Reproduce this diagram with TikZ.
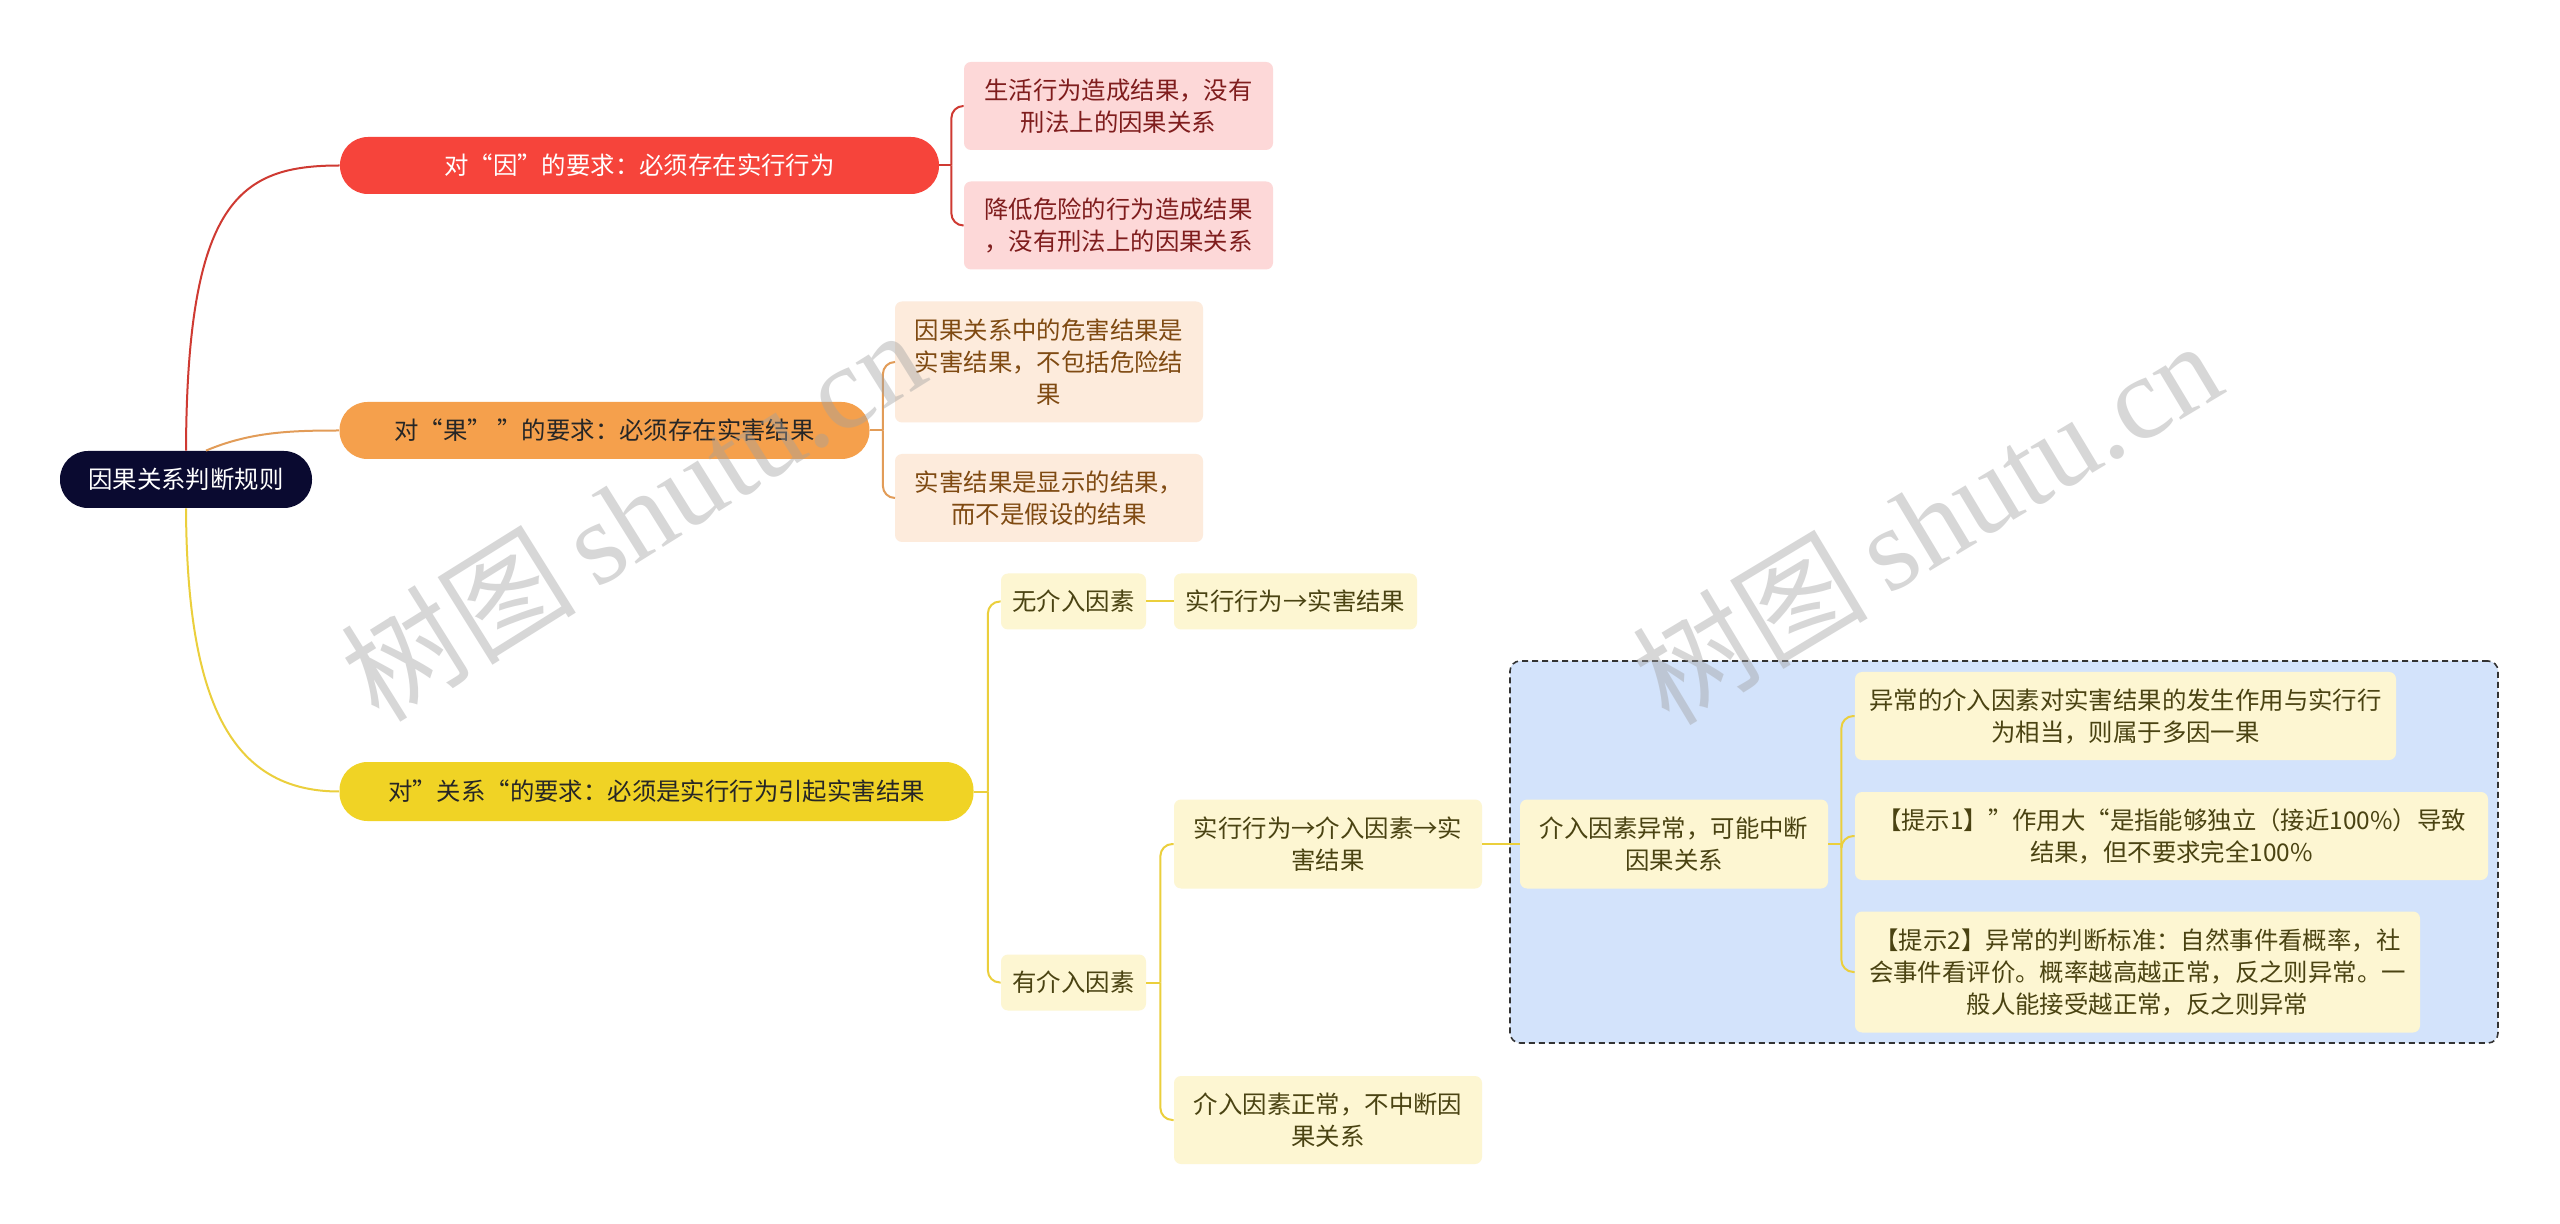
\documentclass[tikz,border=0pt]{standalone}
\usepackage{fontspec}
\setmainfont{Noto Sans CJK SC}
\newfontfamily\wmfont{Liberation Serif}
\newfontfamily\wmcjk{Noto Sans CJK SC}
\definecolor{rootc}{RGB}{10,10,48}
\definecolor{redfill}{RGB}{246,68,59}
\definecolor{redline}{RGB}{207,58,50}
\definecolor{orfill}{RGB}{245,160,76}
\definecolor{orline}{RGB}{226,156,88}
\definecolor{yefill}{RGB}{240,211,37}
\definecolor{yeline}{RGB}{235,207,60}
\definecolor{pinkleaf}{RGB}{253,216,216}
\definecolor{pinktext}{RGB}{127,29,29}
\definecolor{peachleaf}{RGB}{253,235,220}
\definecolor{peachtext}{RGB}{127,74,18}
\definecolor{yleaf}{RGB}{253,246,210}
\definecolor{ytext}{RGB}{74,67,18}
\definecolor{bluebox}{RGB}{211,227,251}
\definecolor{wmgray}{RGB}{160,160,160}
\begin{document}
\begin{tikzpicture}[x=0.5pt,y=-0.5pt,
  every node/.style={inner sep=0pt, align=center, font=\fontsize{12.2pt}{16pt}\selectfont},
  sz/.style 2 args={minimum width=#1*0.5pt, minimum height=#2*0.5pt},
  rootbox/.style={fill=rootc, text=white, rounded corners=14pt},
  pill/.style={rounded corners=14pt},
  leafbox/.style={rounded corners=3.5pt},
  rleaf/.style={leafbox, fill=pinkleaf, text=pinktext},
  oleaf/.style={leafbox, fill=peachleaf, text=peachtext},
  yleafbox/.style={leafbox, fill=yleaf, text=ytext},
  redl/.style={draw=redline, line width=1pt},
  orl/.style={draw=orline, line width=1pt},
  yel/.style={draw=yeline, line width=1pt},
  brk/.style={rounded corners=6pt},
  wm/.style={text=wmgray, opacity=0.42, font=\fontsize{59pt}{61pt}\selectfont}
]
\useasboundingbox (0,0) rectangle (2560,1224);
\fill[white] (0,0) rectangle (2560,1224);

% group box
\node[sz={988}{382}, fill=bluebox, draw=black!80, line width=0.8pt, dash pattern=on 3pt off 2pt, rounded corners=5pt] (grp) at (2004,852) {};

% root and main branches
\node[rootbox, sz={252}{57}] (root) at (186,479.5) {因果关系判断规则};
\node[pill, fill=redfill, text=white, sz={599}{57}] (b1) at (639.5,165.5) {对“因”的要求：必须存在实行行为};
\node[pill, fill=orfill, text=black!85, sz={530}{57}] (b2) at (604.5,430.5) {对“果” ”的要求：必须存在实害结果};
\node[pill, fill=yefill, text=black!85, sz={634}{59}] (b3) at (656.5,791.5) {对”关系“的要求：必须是实行行为引起实害结果};

% red leaves
\node[rleaf, sz={309}{88}] (l1a) at (1118.5,106) {生活行为造成结果，没有\\刑法上的因果关系};
\node[rleaf, sz={309}{88}] (l1b) at (1118.5,225.5) {降低危险的行为造成结果\\，没有刑法上的因果关系};

% orange leaves
\node[oleaf, sz={308}{121}] (l2a) at (1049,362) {因果关系中的危害结果是\\实害结果，不包括危险结\\果};
\node[oleaf, sz={308}{88}] (l2b) at (1049,498) {实害结果是显示的结果，\\而不是假设的结果};

% yellow subtree
\node[yleafbox, sz={145}{56}] (y1) at (1073.5,601.5) {无介入因素};
\node[yleafbox, sz={243}{56}] (y1a) at (1295.5,601.5) {实行行为→实害结果};
\node[yleafbox, sz={145}{56}] (y2) at (1073.5,982.5) {有介入因素};
\node[yleafbox, sz={308}{89}] (y2a) at (1328,844) {实行行为→介入因素→实\\害结果};
\node[yleafbox, sz={308}{88}] (y2b) at (1328,1120) {介入因素正常，不中断因\\果关系};
\node[yleafbox, sz={308}{89}] (y3) at (1674,844) {介入因素异常，可能中断\\因果关系};
\node[yleafbox, sz={541}{88}] (y3a) at (2125.5,716) {异常的介入因素对实害结果的发生作用与实行行\\为相当，则属于多因一果};
\node[yleafbox, sz={633}{88}] (y3b) at (2171.5,836) {【提示1】”作用大“是指能够独立（接近100\%）导致\\结果，但不要求完全100\%};
\node[yleafbox, sz={565}{121}] (y3c) at (2137.5,972) {【提示2】异常的判断标准：自然事件看概率，社\\会事件看评价。概率越高越正常，反之则异常。一\\般人能接受越正常，反之则异常};

% root connectors
\draw[redl] (root.north) .. controls (187,200) and (240,165.5) .. (b1.west);
\draw[orl] ([xshift=10pt]root.north) .. controls (250,432) and (290,430.5) .. (b2.west);
\draw[yel] (root.south) .. controls (187,700) and (230,791.5) .. (b3.west);

% red bracket
\draw[redl] (b1.east) -- ++(12,0) coordinate (j1);
\draw[redl, brk] (j1) |- (l1a.west);
\draw[redl, brk] (j1) |- (l1b.west);

% orange bracket
\draw[orl] (b2.east) -- ++(13,0) coordinate (j2);
\draw[orl, brk] (j2) |- (l2a.west);
\draw[orl, brk] (j2) |- (l2b.west);

% yellow brackets
\draw[yel] (b3.east) -- ++(14,0) coordinate (j3);
\draw[yel, brk] (j3) |- (y1.west);
\draw[yel, brk] (j3) |- (y2.west);
\draw[yel] (y1.east) -- (y1a.west);
\draw[yel] (y2.east) -- ++(14,0) coordinate (j4);
\draw[yel, brk] (j4) |- (y2a.west);
\draw[yel, brk] (j4) |- (y2b.west);
\draw[yel] (y2a.east) -- (y3.west);
\draw[yel] (y3.east) -- ++(13,0) coordinate (j5);
\draw[yel, brk] (j5) |- (y3a.west);
\draw[yel, brk] (j5) |- (y3b.west);
\draw[yel, brk] (j5) |- (y3c.west);

% watermarks
\node[wm, rotate=32] (wm1) at (632,514) {\wmcjk 树图\,\wmfont shutu.cn};
\node[wm, rotate=31] (wm2) at (1926,521) {\wmcjk 树图\,\wmfont shutu.cn};
\end{tikzpicture}
\end{document}
